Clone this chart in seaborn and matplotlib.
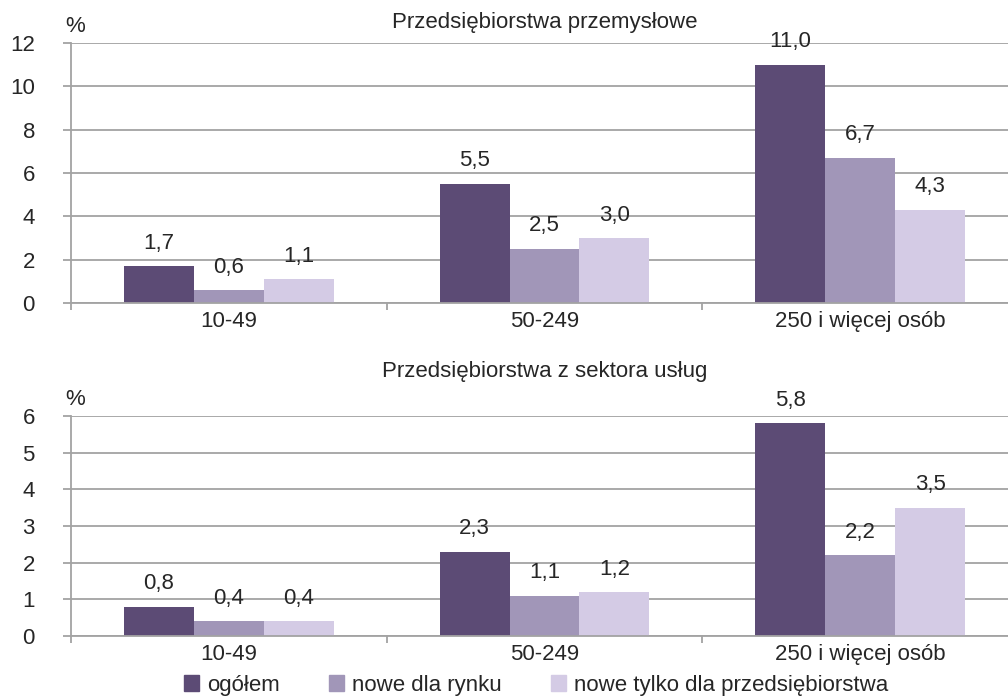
import numpy as np
import pandas as pd
import matplotlib
matplotlib.use("Agg")
import matplotlib.pyplot as plt
import matplotlib.transforms as mtransforms
import seaborn as sns

# ---- data ----
categories = ["10-49", "50-249", "250 i więcej osób"]
series = ["ogółem", "nowe dla rynku", "nowe tylko dla przedsiębiorstwa"]
industry = {  # Przedsiębiorstwa przemysłowe
    "ogółem": [1.7, 5.5, 11.0],
    "nowe dla rynku": [0.6, 2.5, 6.7],
    "nowe tylko dla przedsiębiorstwa": [1.1, 3.0, 4.3],
}
services = {  # Przedsiębiorstwa z sektora usług
    "ogółem": [0.8, 2.3, 5.8],
    "nowe dla rynku": [0.4, 1.1, 2.2],
    "nowe tylko dla przedsiębiorstwa": [0.4, 1.2, 3.5],
}
colors = ["#5C4B75", "#A196B8", "#D4CBE5"]

sns.set_theme(style="white")
plt.rcParams["font.family"] = ["Liberation Sans", "DejaVu Sans"]
FS = 16
GRID = "#A3A3A3"


def long(d):
    rows = [(c, s, d[s][i]) for s in series for i, c in enumerate(categories)]
    return pd.DataFrame(rows, columns=["kat", "seria", "val"])


def panel(ax, d, ymax, step, title, title_y):
    sns.barplot(data=long(d), x="kat", y="val", hue="seria", order=categories,
                hue_order=series, palette=colors, width=0.665, gap=0,
                saturation=1, linewidth=0, ax=ax, legend=False)
    ax.set_ylim(0, ymax)
    ax.set_xlim(-0.5, 2.5)
    ax.set_yticks(np.arange(0, ymax + 0.01, step))
    ax.yaxis.grid(True, color=GRID, lw=1.3)
    ax.set_axisbelow(True)
    for s in ["top", "right"]:
        ax.spines[s].set_visible(False)
    for s in ["left", "bottom"]:
        ax.spines[s].set_color(GRID)
        ax.spines[s].set_linewidth(1.3)
    ax.tick_params(axis="y", length=6, width=1.3, color=GRID, pad=20,
                   labelsize=FS, left=True)
    ax.tick_params(axis="x", length=0, pad=6, labelsize=FS)
    ax.set_xticks([-0.5, 0.5, 1.5, 2.5], minor=True)
    ax.tick_params(axis="x", which="minor", length=5, width=1.3, color=GRID,
                   bottom=True)
    ax.set_xlabel(""); ax.set_ylabel("")
    for cont in ax.containers:
        ax.bar_label(cont, labels=[f"{v:.1f}".replace(".", ",") for v in cont.datavalues],
                     padding=9, fontsize=FS)
    off = mtransforms.ScaledTranslation(-6 / 100, 6 / 100, fig.dpi_scale_trans)
    ax.text(0.0, ymax, "%", transform=ax.get_yaxis_transform() + off, fontsize=FS,
            ha="left", va="bottom")
    ax.text(0.5, title_y, title, transform=ax.transAxes, ha="center",
            va="center", fontsize=FS)


fig = plt.figure(figsize=(10.08, 6.97), dpi=100)
ax1 = fig.add_axes([71 / 1008, 1 - 303 / 697, 947 / 1008, 260 / 697])
ax2 = fig.add_axes([71 / 1008, 1 - 636 / 697, 947 / 1008, 220 / 697])
panel(ax1, industry, 12, 2, "Przedsiębiorstwa przemysłowe", 1.08)
panel(ax2, services, 6, 1, "Przedsiębiorstwa z sektora usług", 1.2)

handles = [plt.Rectangle((0, 0), 1, 1, color=c) for c in colors]
fig.legend(handles, series, loc="center", bbox_to_anchor=(536 / 1008, 1 - 685 / 697),
           ncol=3, frameon=False, fontsize=FS, handlelength=0.7, handleheight=0.7,
           handletextpad=0.35, columnspacing=2.2, borderpad=0)

fig.savefig("out.png", dpi=100)
